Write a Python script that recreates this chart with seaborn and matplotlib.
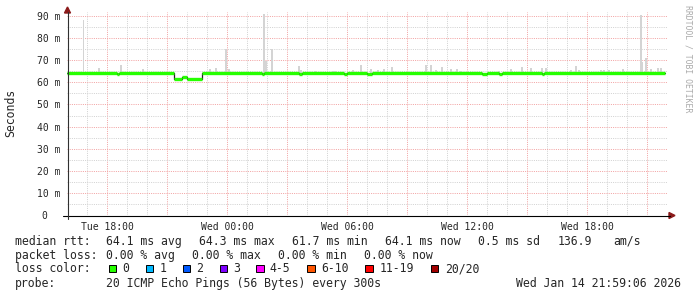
import numpy as np
import pandas as pd
import matplotlib
matplotlib.use("Agg")
import matplotlib.pyplot as plt
import seaborn as sns
from matplotlib.ticker import FixedLocator, FuncFormatter
from matplotlib.patches import Polygon, Rectangle

# ---------------- data ----------------
step_hours = 1 / 12          # 300 s steps
n_steps = 359                # Tue 16:00 .. Wed ~21:55
hour_labels = {2: "Tue 18:00", 8: "Wed 00:00", 14: "Wed 06:00", 20: "Wed 12:00", 26: "Wed 18:00"}

median_break_hours = [0.0, 2.42, 2.58, 5.33, 5.67, 5.75, 5.92, 6.75, 9.75, 9.83,
                      11.58, 11.75, 13.83, 14.0, 15.0, 15.25, 20.75, 20.92,
                      21.58, 21.67, 23.75, 23.83, 26.42, 26.5]
median_break_ms = [64.1, 63.7, 64.1, 61.7, 64.2, 62.4, 61.7, 64.1, 63.7, 64.1,
                   63.7, 64.1, 63.7, 64.1, 63.7, 64.1, 63.7, 64.1,
                   63.7, 64.1, 63.7, 64.1, 63.7, 64.1]

spike_hours = [0.83, 1.6, 2.7, 3.8, 7.15, 7.45, 7.95, 8.1, 9.85, 9.95, 10.25,
               11.6, 11.7, 12.4, 13.3, 13.4, 14.3, 14.7, 15.2, 15.55, 15.85, 16.25,
               17.95, 18.2, 18.45, 18.75, 19.2, 19.5, 19.7, 21.6, 22.2, 22.75, 23.2,
               23.75, 23.95, 25.2, 25.45, 25.6, 26.7, 26.85, 27.1, 27.8, 28.7, 28.78,
               28.95, 29.2, 29.55, 29.7]
spike_top_ms = [88.2, 66.5, 67.9, 66.0, 66.0, 66.5, 75.0, 66.0, 91.0, 69.7, 75.0,
                67.4, 65.6, 65.2, 65.2, 65.2, 65.6, 67.8, 66.0, 65.6, 66.0, 67.0,
                67.9, 67.9, 65.6, 67.0, 66.0, 66.0, 65.0, 65.0, 66.0, 67.0, 66.5,
                66.5, 66.5, 65.6, 67.4, 65.6, 65.6, 65.6, 65.6, 66.0, 90.5, 69.0,
                70.9, 66.0, 66.5, 66.5]

legend_rows = [
    [("median rtt:", 16), ("64.1 ms avg", 107), ("64.3 ms max", 200), ("61.7 ms min", 292.5),
     ("64.1 ms now", 386), ("0.5 ms sd", 479), ("136.9", 558), ("am/s", 614)],
    [("packet loss:", 16), ("0.00 % avg", 107), ("0.00 % max", 193), ("0.00 % min", 279),
     ("0.00 % now", 365)],
]
loss_labels = ["0", "1", "2", "3", "4-5", "6-10", "11-19", "20/20"]
loss_colors = ["#26ff00", "#00b8ff", "#0059ff", "#7e00ff", "#ff00ff", "#ff5500", "#ff0000", "#a10000"]
loss_box_x = [108.5, 145.5, 182.5, 219.5, 256, 307, 365, 430.5]
loss_text_x = [123, 160.5, 197, 234, 270.5, 322, 380.5, 446]
probe_text = "20 ICMP Echo Pings (56 Bytes) every 300s"
stamp_text = "Wed Jan 14 21:59:06 2026"

# ---------------- build series ----------------
times = np.arange(n_steps) * step_hours
idx = np.searchsorted(np.array(median_break_hours), times, side="right") - 1
median = np.array(median_break_ms)[idx]
df = pd.DataFrame({"hour": np.append(times, times[-1] + step_hours),
                   "median": np.append(median, median[-1])})

sns.set_style("white")
plt.rcParams["font.family"] = ["DejaVu Sans Mono"]

W, H = 697, 297
fig = plt.figure(figsize=(W / 100, H / 100), dpi=100)
fig.patch.set_facecolor("white")

ax_l, ax_r, ax_b, ax_t = 67, 667, 215, 12
ax = fig.add_axes([ax_l / W, (H - ax_b) / H, (ax_r - ax_l) / W, (ax_b - ax_t) / H])
ax.set_facecolor("white")
ax.set_xlim(0, 30)
ax.set_ylim(0, 90 * (ax_b - ax_t) / (215 - 16))
for s in ax.spines.values():
    s.set_visible(False)

# grid
ax.xaxis.set_major_locator(FixedLocator(np.arange(2, 30, 3)))
ax.xaxis.set_minor_locator(FixedLocator(np.arange(1, 30, 1)))
ax.set_yticks(np.arange(0, 91, 10))
ax.set_yticklabels(["0  "] + [f"{v} m" for v in range(10, 91, 10)])
ax.yaxis.set_minor_locator(FixedLocator(np.arange(5, 91, 10)))
ax.grid(which="minor", color="#d2d2d2", lw=0.72, ls=(0, (1, 1.2)))
ax.grid(which="major", color="#f2a4a4", lw=0.72, ls=(0, (1, 1.2)))
ax.set_axisbelow(True)

ax.xaxis.set_major_formatter(FuncFormatter(lambda v, p: hour_labels.get(int(round(v)), "")))
ax.tick_params(axis="x", which="major", length=2, width=0.75, color="#f0a0a0", pad=3, labelsize=7)
ax.tick_params(axis="x", which="minor", length=0)
ax.tick_params(axis="y", which="both", length=0, pad=5, labelsize=7)

# smoke
ax.bar(spike_hours, np.array(spike_top_ms) - 64.1, bottom=64.1, width=step_hours,
       color="#d4d4d4", linewidth=0, zorder=2)

# median: thin dark step line, then green loss-colour segments
sns.lineplot(data=df, x="hour", y="median", ax=ax, color="#202020", lw=0.9,
             drawstyle="steps-post", zorder=3)
runs_start = [0]
for i in range(1, n_steps):
    if median[i] != median[i - 1]:
        runs_start.append(i)
runs_end = runs_start[1:] + [n_steps]
for a, b in zip(runs_start, runs_end):
    ax.hlines(median[a], times[a], times[b - 1] + step_hours, colors="#26ff00",
              lw=2.4, capstyle="butt", zorder=4)
ax.set_xlabel("")
ax.set_ylabel("")

# ---------------- overlay in pixel coordinates ----------------
ov = fig.add_axes([0, 0, 1, 1])
ov.set_xlim(0, W)
ov.set_ylim(H, 0)
ov.axis("off")
ov.patch.set_alpha(0)

ov.plot([63, 670], [215.5, 215.5], color="black", lw=0.8)
ov.plot([67.5, 67.5], [219, 12], color="#303030", lw=0.8)
ov.add_patch(Polygon([[64.5, 13], [70.5, 13], [67.5, 7]], closed=True, color="#8b1a1a"))
ov.add_patch(Polygon([[669, 212.5], [669, 218.5], [675, 215.5]], closed=True, color="#8b1a1a"))

ov.text(11, 113, "Seconds", rotation=90, ha="center", va="center", fontsize=8.3)
ov.text(688, 5, "RRDTOOL / TOBI OETIKER", rotation=270, ha="center", va="top",
        fontsize=5.9, color="#aaaaaa")

row_y = [241.3, 255.3, 268.7, 283.7]
for r, row in enumerate(legend_rows):
    for txt, x in row:
        ov.text(x - 0.7, row_y[r], txt, ha="left", va="center", fontsize=8.3)
ov.text(15.3, row_y[2], "loss color:", ha="left", va="center", fontsize=8.3)
for lab, col, x, tx in zip(loss_labels, loss_colors, loss_box_x, loss_text_x):
    ov.add_patch(Rectangle((x, row_y[2] - 4), 7.5, 7.5, facecolor=col, edgecolor="black", lw=0.7))
    ov.text(tx - 0.7, row_y[2], lab, ha="left", va="center", fontsize=8.3)
ov.text(15.3, row_y[3], "probe:", ha="left", va="center", fontsize=8.3)
ov.text(106.3, row_y[3], probe_text, ha="left", va="center", fontsize=8.3)
ov.text(681, row_y[3], stamp_text, ha="right", va="center", fontsize=8.3)

fig.savefig("out.png", dpi=100, facecolor="white")
